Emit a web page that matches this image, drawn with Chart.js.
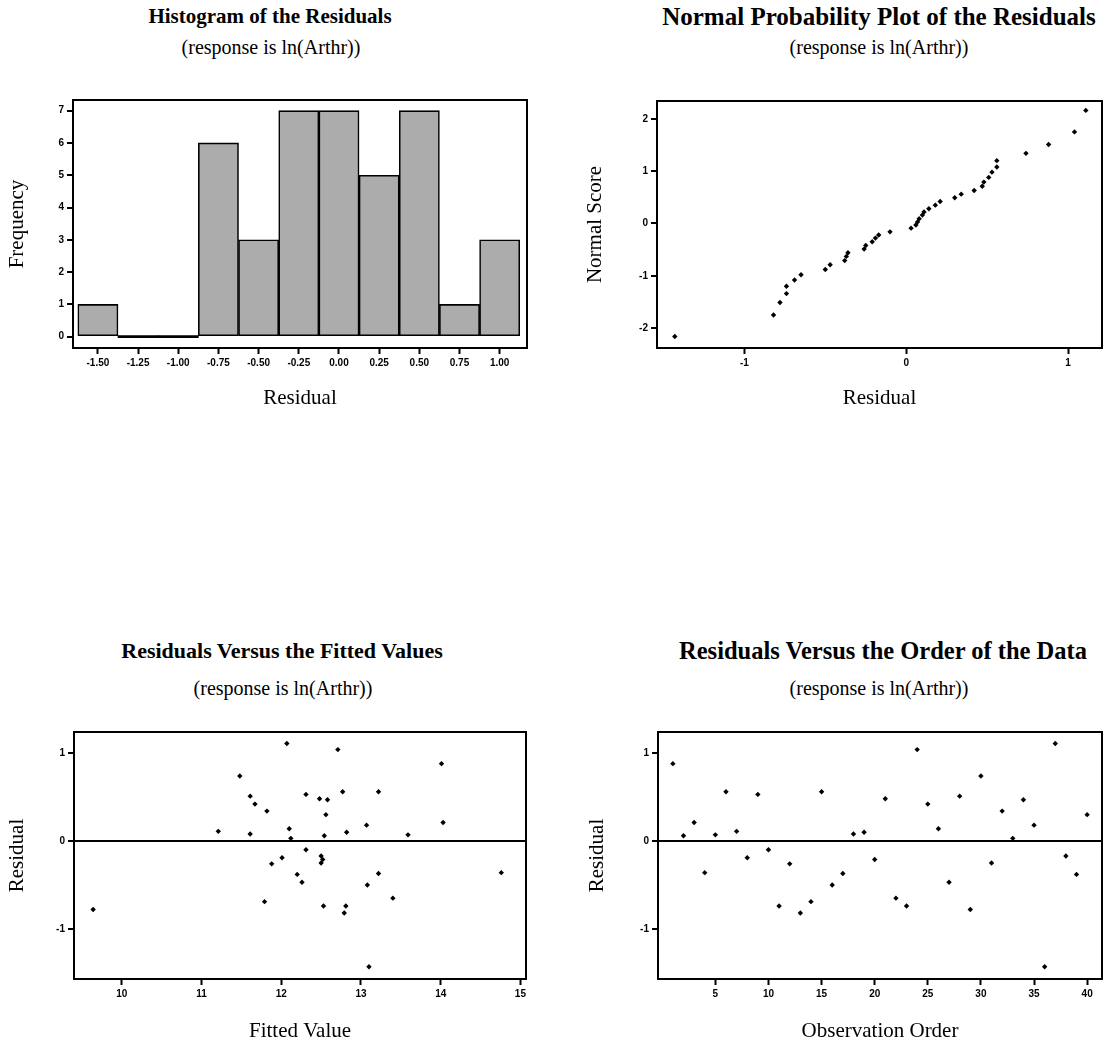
<!DOCTYPE html>
<html>
<head>
<meta charset="utf-8">
<script src="https://cdn.jsdelivr.net/npm/chart.js@4.4.0/dist/chart.umd.min.js"></script>
<style>
body { margin:0; background:#fff; width:1106px; height:1048px; position:relative; overflow:hidden; font-family:"Liberation Serif", "Times New Roman", serif; color:#000; }
.ttl { position:absolute; transform:translateX(-50%); white-space:nowrap; font-weight:bold; font-size:22px; line-height:1; }
.sub { position:absolute; transform:translateX(-50%); white-space:nowrap; font-size:20px; line-height:1; }
canvas { position:absolute; }
</style>
</head>
<body>
<div class="ttl" style="left:270px;top:6px;font-size:21px">Histogram of the Residuals</div>
<div class="sub" style="left:271px;top:37px">(response is ln(Arthr))</div>
<div class="ttl" style="left:879px;top:4px;font-size:25px">Normal Probability Plot of the Residuals</div>
<div class="sub" style="left:879px;top:37px">(response is ln(Arthr))</div>
<div class="ttl" style="left:282px;top:640px">Residuals Versus the Fitted Values</div>
<div class="sub" style="left:283px;top:678px">(response is ln(Arthr))</div>
<div class="ttl" style="left:883px;top:639px;font-size:24.5px">Residuals Versus the Order of the Data</div>
<div class="sub" style="left:879px;top:678px">(response is ln(Arthr))</div>

<canvas id="hist" width="540" height="330" style="left:0px;top:90px"></canvas>
<canvas id="normal" width="546" height="330" style="left:560px;top:90px"></canvas>
<canvas id="fits" width="540" height="328" style="left:0px;top:720px"></canvas>
<canvas id="order" width="546" height="328" style="left:560px;top:720px"></canvas>

<script>
// histogram bins (centres) and counts
var histBins = [-1.50, -1.25, -1.00, -0.75, -0.50, -0.25, 0.00, 0.25, 0.50, 0.75, 1.00];
var histCounts = [1, 0, 0, 6, 3, 7, 7, 5, 7, 1, 3];
var histXTicks = [-1.50, -1.25, -1.00, -0.75, -0.50, -0.25, 0.00, 0.25, 0.50, 0.75, 1.00];
var histYTicks = [0, 1, 2, 3, 4, 5, 6, 7];

// residuals in observation order, and the fitted value of each observation
var obsOrder = [1,2,3,4,5,6,7,8,9,10,11,12,13,14,15,16,17,18,19,20,
                21,22,23,24,25,26,27,28,29,30,31,32,33,34,35,36,37,38,39,40];
var residuals = [0.88, 0.06, 0.21, -0.36, 0.07, 0.56, 0.11, -0.19, 0.53, -0.10,
                 -0.74, -0.26, -0.82, -0.69, 0.56, -0.50, -0.37, 0.08, 0.10, -0.21,
                 0.48, -0.65, -0.74, 1.04, 0.42, 0.14, -0.47, 0.51, -0.78, 0.74,
                 -0.25, 0.34, 0.03, 0.47, 0.18, -1.43, 1.11, -0.17, -0.38, 0.30];
var fitted = [14.01, 12.54, 14.03, 14.76, 13.59, 12.77, 11.21, 12.01, 12.31, 12.31,
              12.53, 11.88, 12.79, 11.79, 13.22, 13.08, 13.22, 11.61, 12.82, 12.52,
              12.48, 13.40, 12.81, 12.71, 11.67, 12.10, 12.26, 11.61, 9.64, 11.48,
              12.50, 11.82, 12.12, 12.58, 13.07, 13.10, 12.07, 12.50, 12.20, 12.56];

// normal scores of the ordered residuals
var normalScores = [-2.16, -1.75, -1.51, -1.34, -1.20, -1.08, -0.98, -0.88, -0.79, -0.71,
                    -0.63, -0.56, -0.49, -0.42, -0.35, -0.28, -0.22, -0.16, -0.09, -0.03,
                    0.03, 0.09, 0.16, 0.22, 0.28, 0.35, 0.42, 0.49, 0.56, 0.63,
                    0.71, 0.79, 0.88, 0.98, 1.08, 1.20, 1.34, 1.51, 1.75, 2.16];
var normalXTicks = [-1, 0, 1];
var normalYTicks = [-2, -1, 0, 1, 2];
var residTicks = [-1, 0, 1];
var fittedTicks = [10, 11, 12, 13, 14, 15];
var orderTicks = [5, 10, 15, 20, 25, 30, 35, 40];

var tickFont = {family: '"Liberation Sans", Arial, sans-serif', size: 10, weight: 'bold'};
var titleFont = {family: '"Liberation Serif", "Times New Roman", serif', size: 21};

// box round the plot area
var framePlugin = {
  id: 'frame',
  afterDatasetsDraw: function(chart) {
    var a = chart.chartArea, ctx = chart.ctx;
    ctx.save();
    ctx.strokeStyle = '#000';
    ctx.lineWidth = 2;
    ctx.strokeRect(a.left, a.top, a.right - a.left, a.bottom - a.top);
    ctx.restore();
  }
};

function fixTicks(list) {
  return function(scale) {
    scale.ticks = list.map(function(v) { return {value: v}; });
  };
}

function xAxis(min, max, ticks, fmt, title, height, titlePad) {
  return {
    type: 'linear', min: min, max: max, offset: false,
    afterBuildTicks: fixTicks(ticks),
    afterFit: function(s) { s.height = height; },
    border: {display: false},
    grid: {drawOnChartArea: false, offset: false, tickLength: 6, tickWidth: 2, tickColor: '#000'},
    ticks: {font: tickFont, color: '#000', padding: 3, maxRotation: 0, autoSkip: false, callback: fmt},
    title: {display: true, text: title, font: titleFont, color: '#000', padding: {top: 0, bottom: titlePad}}
  };
}

function yAxis(min, max, ticks, title, width, titlePad, zeroLine) {
  return {
    type: 'linear', min: min, max: max,
    afterBuildTicks: fixTicks(ticks),
    afterFit: function(s) { s.width = width; },
    border: {display: false},
    grid: {
      drawOnChartArea: zeroLine,
      color: function(c) { return (c.tick && c.tick.value === 0) ? '#000' : 'rgba(0,0,0,0)'; },
      lineWidth: 2,
      tickLength: 6, tickWidth: 2, tickColor: '#000'
    },
    ticks: {font: tickFont, color: '#000', padding: 3, autoSkip: false, callback: function(v) { return v; }},
    title: {display: true, text: title, font: titleFont, color: '#000', padding: {top: titlePad, bottom: 0}}
  };
}

function scatterData(xs, ys) {
  var pts = [];
  for (var i = 0; i < xs.length; i++) pts.push({x: xs[i], y: ys[i]});
  return pts;
}

var baseOpts = {
  responsive: false,
  animation: false,
  plugins: {legend: {display: false}, tooltip: {enabled: false}}
};

function opts(pad, scales) {
  var o = Object.assign({}, baseOpts);
  o.layout = {padding: pad};
  o.scales = scales;
  return o;
}

var pointStyle = {
  pointStyle: 'rectRot', pointRadius: 2.7, pointBackgroundColor: '#000',
  pointBorderWidth: 0, showLine: false
};

// histogram
var histPoints = scatterData(histBins, histCounts);
new Chart(document.getElementById('hist'), {
  type: 'bar',
  data: {datasets: [{
    data: histPoints,
    // empty bins show only as a flat black line on the base
    backgroundColor: function(c) { return (c.raw && c.raw.y === 0) ? '#000' : '#acacac'; },
    borderColor: '#000',
    borderWidth: function(c) { return (c.raw && c.raw.y === 0) ? 0 : 1.6; },
    borderSkipped: false,
    minBarLength: 2,
    barPercentage: 1,
    categoryPercentage: 1
  }]},
  options: opts({top: 10, right: 13, left: 0, bottom: 0}, {
    x: xAxis(-1.655, 1.17, histXTicks, function(v) { return v.toFixed(2); }, 'Residual', 72, 9),
    y: yAxis(-0.35, 7.33, histYTicks, 'Frequency', 73, 5, false)
  }),
  plugins: [framePlugin]
});

// normal probability plot
var sortedRes = residuals.slice().sort(function(a, b) { return a - b; });
new Chart(document.getElementById('normal'), {
  type: 'scatter',
  data: {datasets: [Object.assign({data: scatterData(sortedRes, normalScores)}, pointStyle)]},
  options: opts({top: 11, right: 1, left: 0, bottom: 0}, {
    x: xAxis(-1.54, 1.21, normalXTicks, function(v) { return v; }, 'Residual', 72, 9),
    y: yAxis(-2.38, 2.34, normalYTicks, 'Normal Score', 97, 23, false)
  }),
  plugins: [framePlugin]
});

// residuals versus fits
new Chart(document.getElementById('fits'), {
  type: 'scatter',
  data: {datasets: [Object.assign({data: scatterData(fitted, residuals)}, pointStyle)]},
  options: opts({top: 12, right: 14, left: 0, bottom: 0}, {
    x: xAxis(9.40, 15.07, fittedTicks, function(v) { return v; }, 'Fitted Value', 69, 4),
    y: yAxis(-1.57, 1.24, residTicks, 'Residual', 74, 5, true)
  }),
  plugins: [framePlugin]
});

// residuals versus order
new Chart(document.getElementById('order'), {
  type: 'scatter',
  data: {datasets: [Object.assign({data: scatterData(obsOrder, residuals)}, pointStyle)]},
  options: opts({top: 12, right: 1, left: 0, bottom: 0}, {
    x: xAxis(-0.4, 41.4, orderTicks, function(v) { return v; }, 'Observation Order', 69, 4),
    y: yAxis(-1.57, 1.24, residTicks, 'Residual', 98, 25, true)
  }),
  plugins: [framePlugin]
});
</script>
</body>
</html>
